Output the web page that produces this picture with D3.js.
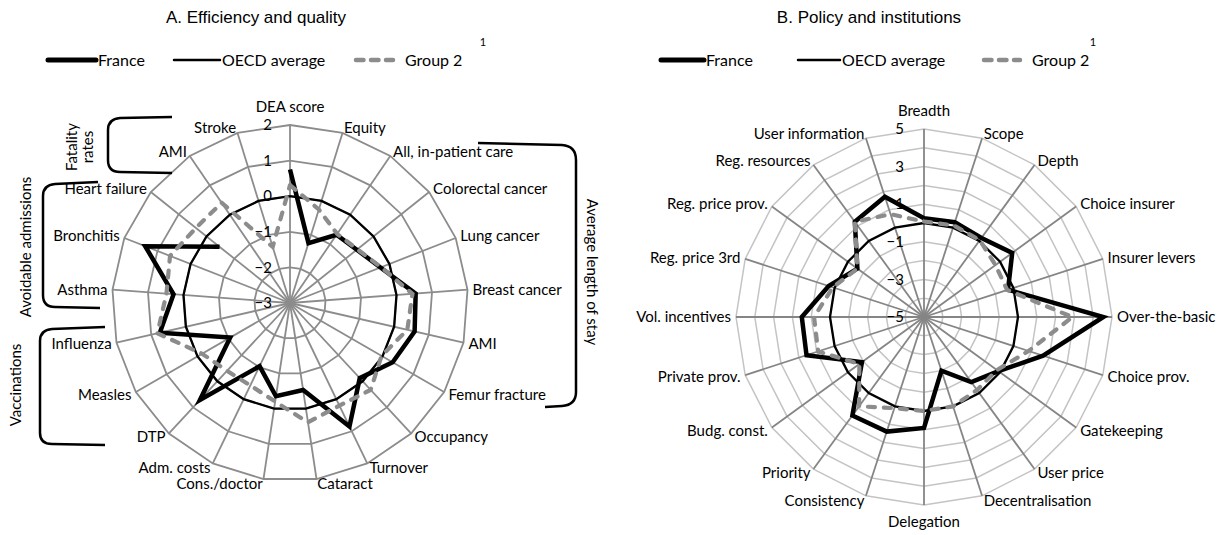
<!DOCTYPE html>
<html><head><meta charset="utf-8">
<script src="https://cdn.jsdelivr.net/npm/d3@7/dist/d3.min.js"></script>
<style>
body{margin:0;background:#fff}
svg text{font-family:Lato,"Open Sans",sans-serif;fill:#000}
</style>
</head><body>
<svg id="c" width="1229" height="535"></svg>
<script>
// ---------- Panel A data ----------
const catsA = ["DEA score","Equity","All, in-patient care","Colorectal cancer","Lung cancer","Breast cancer","AMI","Femur fracture","Occupancy","Turnover","Cataract","Cons./doctor","Adm. costs","DTP","Measles","Influenza","Asthma","Bronchitis","Heart failure","AMI","Stroke"];
const franceA = [0.75,-1.24,-0.68,-0.6,-0.27,0.54,0.59,0.33,-0.12,0.85,-0.53,-0.35,-1.03,0.72,-1.06,0.75,0.28,1.37,-0.47,null,null];
const oecdA   = [0,0,0,0,0,0,0,0,0,0,0,0,0,0,0,0,0,0,0,0,0];
const group2A = [0.31,-0.25,-0.65,-0.58,-0.25,0.45,0.38,-0.03,0.33,0.2,0.39,-0.2,-0.43,-0.4,-0.15,0.82,0.48,0.62,0.38,0.41,-1.35];
const ticksA = [-3,-2,-1,0,1,2];

// ---------- Panel B data ----------
const catsB = ["Breadth","Scope","Depth","Choice insurer","Insurer levers","Over-the-basic","Choice prov.","Gatekeeping","User price","Decentralisation","Delegation","Consistency","Priority","Budg. const.","Private prov.","Vol. incentives","Reg. price 3rd","Reg. price prov.","Reg. resources","User information"];
const franceB = [0.25,0.3,0.2,0.8,-0.3,4.54,1.66,-0.1,-0.72,-2.0,0.9,1.41,1.48,-0.92,1.57,1.5,0.33,-0.62,1.26,1.73];
const oecdB   = [0,0,0,0,0,0,0,0,0,0,0,0,0,0,0,0,0,0,0,0];
const group2B = [0.08,0.12,0.05,-0.3,-0.35,2.9,0.85,-0.2,-0.2,0.0,0.0,0.1,0.87,-0.75,0.92,0.85,0.1,-0.62,1.26,0.75];
const ticksB = [-5,-3,-1,1,3,5];

const seriesNames = ["France","OECD average","Group 2"];

const svg = d3.select("#c");
const GRAY = "#8c8c8c";

const styles = {
  "France": {stroke:"#000", width:4.5, dash:null, cap:"butt"},
  "OECD average": {stroke:"#000", width:2.3, dash:null, cap:"butt"},
  "Group 2": {stroke:GRAY, width:4.2, dash:"7,9", cap:"round"}
};

function radar(o) {
  const g = svg.append("g").attr("transform", `translate(${o.cx},${o.cy})`);
  const n = o.cats.length;
  const r = d3.scaleLinear().domain(o.domain).range([0, o.R]);
  const ang = d3.scaleLinear().domain([0, n]).range([0, 2*Math.PI]);
  const idx = d3.range(n);
  // rings
  o.rings.forEach(v => {
    g.append("path")
      .attr("d", d3.lineRadial().angle(i => ang(i)).radius(() => r(v)).curve(d3.curveLinearClosed)(idx))
      .attr("fill","none").attr("stroke", o.ringColor).attr("stroke-width", o.ringW);
  });
  // spokes
  idx.forEach(i => {
    const a = ang(i);
    g.append("line").attr("x1",0).attr("y1",0)
      .attr("x2", r(o.domain[1])*Math.sin(a)).attr("y2", -r(o.domain[1])*Math.cos(a))
      .attr("stroke", o.spokeColor).attr("stroke-width", o.spokeW);
  });
  // category labels
  idx.forEach(i => {
    const a = ang(i), s = Math.sin(a), c = Math.cos(a);
    const p = o.R + 5;
    let x = p*s, y = -p*c;
    let anchor = Math.abs(s) < 0.01 ? "middle" : (s > 0 ? "start" : "end");
    if (Math.abs(s) < 0.01) y += c > 0 ? -13 : 12;
    g.append("text").attr("x", x).attr("y", y).attr("dy","0.35em")
      .attr("text-anchor", anchor).attr("font-size", 15).text(o.cats[i]);
  });
  // tick labels
  o.ticks.forEach(v => {
    g.append("text").attr("x", -o.tickDx).attr("y", -r(v)).attr("dy","0.35em")
      .attr("text-anchor","end").attr("font-size", 15).text(d3.format("d")(v).replace("-", "-"));
  });
  // series
  o.series.forEach((vals, k) => {
    const st = styles[seriesNames[k]];
    const data = vals.map((v,i) => ({i, v})).concat([{i:n, v: vals[0]}]);
    const line = d3.lineRadial().defined(d => d.v != null)
      .angle(d => ang(d.i)).radius(d => r(d.v));
    g.append("path").attr("d", line(data))
      .attr("fill","none").attr("stroke", st.stroke).attr("stroke-width", st.width)
      .attr("stroke-dasharray", st.dash).attr("stroke-linecap", st.cap)
      .attr("stroke-linejoin","miter").attr("stroke-miterlimit", 4);
  });
}

radar({cx:290, cy:303, R:178, domain:[-3,2], rings:[-2,-1,0,1,2], ticks:ticksA, tickDx:18,
  cats:catsA, series:[franceA, oecdA, group2A],
  ringColor:GRAY, ringW:1.8, spokeColor:GRAY, spokeW:1.8});

radar({cx:924, cy:317, R:188, domain:[-5,5], rings:[-4,-3,-2,-1,0,1,2,3,4,5], ticks:ticksB, tickDx:20,
  cats:catsB, series:[franceB, oecdB, group2B],
  ringColor:"#c4c4c4", ringW:1.5, spokeColor:"#858585", spokeW:1.8});

// titles
svg.append("text").attr("x",256).attr("y",17).attr("dy","0.35em").attr("text-anchor","middle")
  .style("font-family","'Liberation Sans',Arial,sans-serif").attr("font-size",17).text("A. Efficiency and quality");
svg.append("text").attr("x",869).attr("y",17).attr("dy","0.35em").attr("text-anchor","middle")
  .style("font-family","'Liberation Sans',Arial,sans-serif").attr("font-size",17).text("B. Policy and institutions");

// legends
function legend(items) {
  items.forEach(it => {
    const st = styles[it.name];
    svg.append("line").attr("x1", it.x1).attr("x2", it.x2).attr("y1",60).attr("y2",60)
      .attr("stroke", st.stroke).attr("stroke-width", it.name==="France"?5:(it.name==="Group 2"?4.5:2.5))
      .attr("stroke-linecap","round")
      .attr("stroke-dasharray", it.name==="Group 2" ? "7.5,7.5" : null);
    svg.append("text").attr("x", it.tx).attr("y",60).attr("dy","0.35em").attr("font-size",16).text(it.name);
  });
}
legend([{name:"France",x1:48,x2:96,tx:98},{name:"OECD average",x1:174,x2:220,tx:222},{name:"Group 2",x1:356,x2:393,tx:405}]);
legend([{name:"France",x1:661,x2:704,tx:706},{name:"OECD average",x1:798,x2:840,tx:842},{name:"Group 2",x1:984,x2:1020,tx:1032}]);
svg.append("text").attr("x",483).attr("y",42).attr("dy","0.35em").attr("text-anchor","middle").attr("font-size",11).text("1");
svg.append("text").attr("x",1093).attr("y",42).attr("dy","0.35em").attr("text-anchor","middle").attr("font-size",11).text("1");

// brackets (annotations)
const br = svg.append("g").attr("fill","none").attr("stroke","#000").attr("stroke-width",2.5);
br.append("path").attr("d","M172,117 L120,118 Q108,119 108,130 L108,160 Q108,172 120,172 L172,173");
br.append("path").attr("d","M98,182 L55,184 Q43,185 43,196 L43,295 Q43,307 55,307 L100,308");
br.append("path").attr("d","M105,327 L52,329 Q40,330 40,341 L40,433 Q40,444 52,444 L105,445");
br.append("path").attr("d","M478,143 L562,145 Q576,146 576,160 L576,392 Q576,405 562,406 L545,407");

function vtext(x, y, rot, t) {
  svg.append("text").attr("transform", `translate(${x},${y}) rotate(${rot})`)
    .attr("text-anchor","middle").attr("dy","0.35em").attr("font-size",15).text(t);
}
vtext(72,147,-90,"Fatality");
vtext(88,147,-90,"rates");
vtext(26,247,-90,"Avoidable admissions");
vtext(16,385,-90,"Vaccinations");
vtext(592,272,90,"Average length of stay");
</script>
</body></html>
